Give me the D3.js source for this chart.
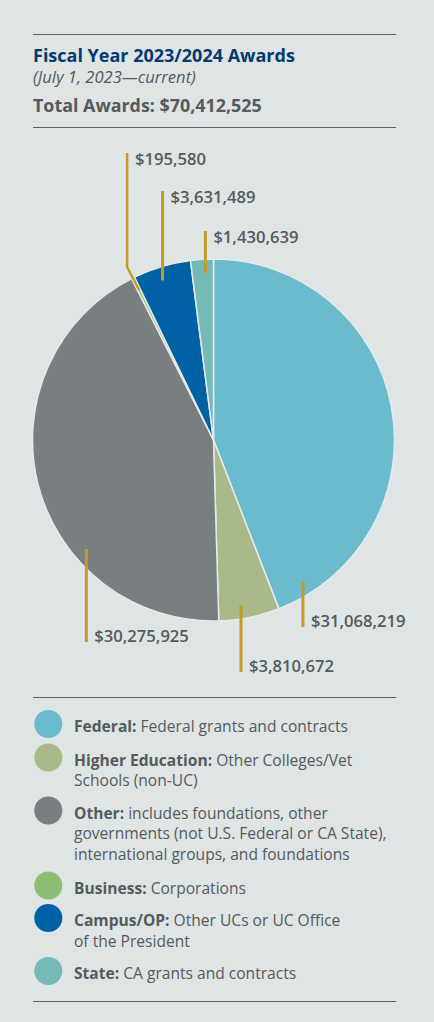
<!DOCTYPE html>
<html>
<head>
<meta charset="utf-8">
<script src="https://cdn.jsdelivr.net/npm/d3@7/dist/d3.min.js"></script>
<style>
  html, body { margin: 0; padding: 0; background: #dfe4e4; }
  svg { display: block; }
</style>
</head>
<body>
<script>
// ---- Data ----
const categories = ["Federal", "Higher Education", "Other", "Business", "Campus/OP", "State"];
const values = [31068219, 3810672, 30275925, 195580, 3631489, 1430639];
const valueLabels = ["$31,068,219", "$3,810,672", "$30,275,925", "$195,580", "$3,631,489", "$1,430,639"];
const colors = ["#6abbcd", "#a9b98a", "#797e81", "#8dbd73", "#0062a5", "#76bab7"];
const legendBold = ["Federal:", "Higher Education:", "Other:", "Business:", "Campus/OP:", "State:"];
const legendText = [
  ["Federal grants and contracts"],
  ["Other Colleges/Vet", "Schools (non-UC)"],
  ["includes foundations, other", "governments (not U.S. Federal or CA State),", "international groups, and foundations"],
  ["Corporations"],
  ["Other UCs or UC Office", "of the President"],
  ["CA grants and contracts"]
];
const titleText = "Fiscal Year 2023/2024 Awards";
const subtitleText = "(July 1, 2023\u2014current)";
const totalText = "Total Awards: $70,412,525";

// ---- Layout ----
const W = 434, H = 1022;
const cx = 213.5, cy = 440, R = 181;
const textColor = "#555a5c";
const gold = "#c39a2b";
const font = "'Open Sans', sans-serif";

// leader layout per slice: fraction within slice, direction, label end y, elbow
const leaderFrac = [0.93, 0.6, 0.33, 0.5, 0.44, 0.62];
const leaderDir = ["down", "down", "down", "up", "up", "up"];
const leaderEndY = [627, 672, 642, 153, 191, 231];
const leaderWidth = [3, 3, 3, 2.5, 3, 3];
const leaderElbow = [0, 0, 0, 12, 0, 0];

const svg = d3.select("body").append("svg").attr("width", W).attr("height", H);
svg.append("rect").attr("width", W).attr("height", H).attr("fill", "#dfe4e4");

// rules
const rule = (y) => svg.append("line").attr("x1", 33).attr("x2", 396).attr("y1", y).attr("y2", y)
  .attr("stroke", "#5c6163").attr("stroke-width", 1.2);
rule(34.5); rule(127.5); rule(697.5); rule(1001.5);

// fit text width to target
function fit(sel, target) {
  const w = sel.node().getComputedTextLength();
  if (w > 0) {
    const fs = parseFloat(sel.attr("font-size"));
    sel.attr("font-size", fs * target / w);
  }
  return sel;
}

// titles
fit(svg.append("text").attr("x", 33).attr("y", 62).attr("fill", "#053a6e")
  .attr("font-family", font).attr("font-weight", 700).attr("font-size", 17).text(titleText), 262);
fit(svg.append("text").attr("x", 33).attr("y", 83).attr("fill", textColor)
  .attr("font-family", font).attr("font-style", "italic").attr("font-size", 14).text(subtitleText), 163);
fit(svg.append("text").attr("x", 33).attr("y", 112).attr("fill", textColor)
  .attr("font-family", font).attr("font-weight", 700).attr("font-size", 17).text(totalText), 229);

// pie
const pie = d3.pie().sort(null).value(d => d)(values);
const arc = d3.arc().innerRadius(0).outerRadius(R);
const g = svg.append("g").attr("transform", `translate(${cx},${cy})`);
g.selectAll("path").data(pie).join("path")
  .attr("d", arc)
  .attr("fill", (d, i) => colors[i])
  .attr("stroke", "#e6eaea").attr("stroke-width", 1.5).attr("stroke-linejoin", "round");

// leaders and labels
let labelFs = null;
pie.forEach((d, i) => {
  const a = d.startAngle + leaderFrac[i] * (d.endAngle - d.startAngle);
  const r = R * 0.925;
  const px = cx + r * Math.sin(a);
  const py = cy - r * Math.cos(a);
  const lx = px - leaderElbow[i];
  const ey = leaderEndY[i];
  let pts;
  if (leaderElbow[i]) {
    pts = [[px, py], [lx, py - 23], [lx, ey]];
  } else {
    pts = [[px, py], [px, ey]];
  }
  svg.append("path").attr("d", d3.line()(pts)).attr("fill", "none")
    .attr("stroke", gold).attr("stroke-width", leaderWidth[i]);
  const ty = leaderDir[i] === "down" ? ey : ey + 11.5;
  const t = svg.append("text").attr("x", lx + 8).attr("y", ty).attr("fill", textColor)
    .attr("font-family", font).attr("font-weight", 600).attr("font-size", 15)
    .attr("class", "vlabel")
    .text(valueLabels[i]);
  if (i === 2) { fit(t, 94.6); labelFs = t.attr("font-size"); }
});
svg.selectAll("text.vlabel").attr("font-size", labelFs);

// legend
const legendY = [724, 757.5, 810.5, 885.5, 918, 971];
let bodyFs = 15;
{
  const probe = svg.append("text").attr("font-family", font).attr("font-size", 15)
    .text(legendText[2][1]);
  bodyFs = 15 * 312.7 / probe.node().getComputedTextLength();
  probe.remove();
}
categories.forEach((c, i) => {
  svg.append("circle").attr("cx", 48.3).attr("cy", legendY[i]).attr("r", 14).attr("fill", colors[i]);
  legendText[i].forEach((line, j) => {
    const t = svg.append("text").attr("x", 74).attr("y", legendY[i] + 8 + j * 20.7)
      .attr("fill", textColor).attr("font-family", font).attr("font-size", bodyFs);
    if (j === 0) {
      t.append("tspan").attr("font-weight", 700).text(legendBold[i] + " ");
      t.append("tspan").text(line);
    } else {
      t.text(line);
    }
  });
});
</script>
</body>
</html>
